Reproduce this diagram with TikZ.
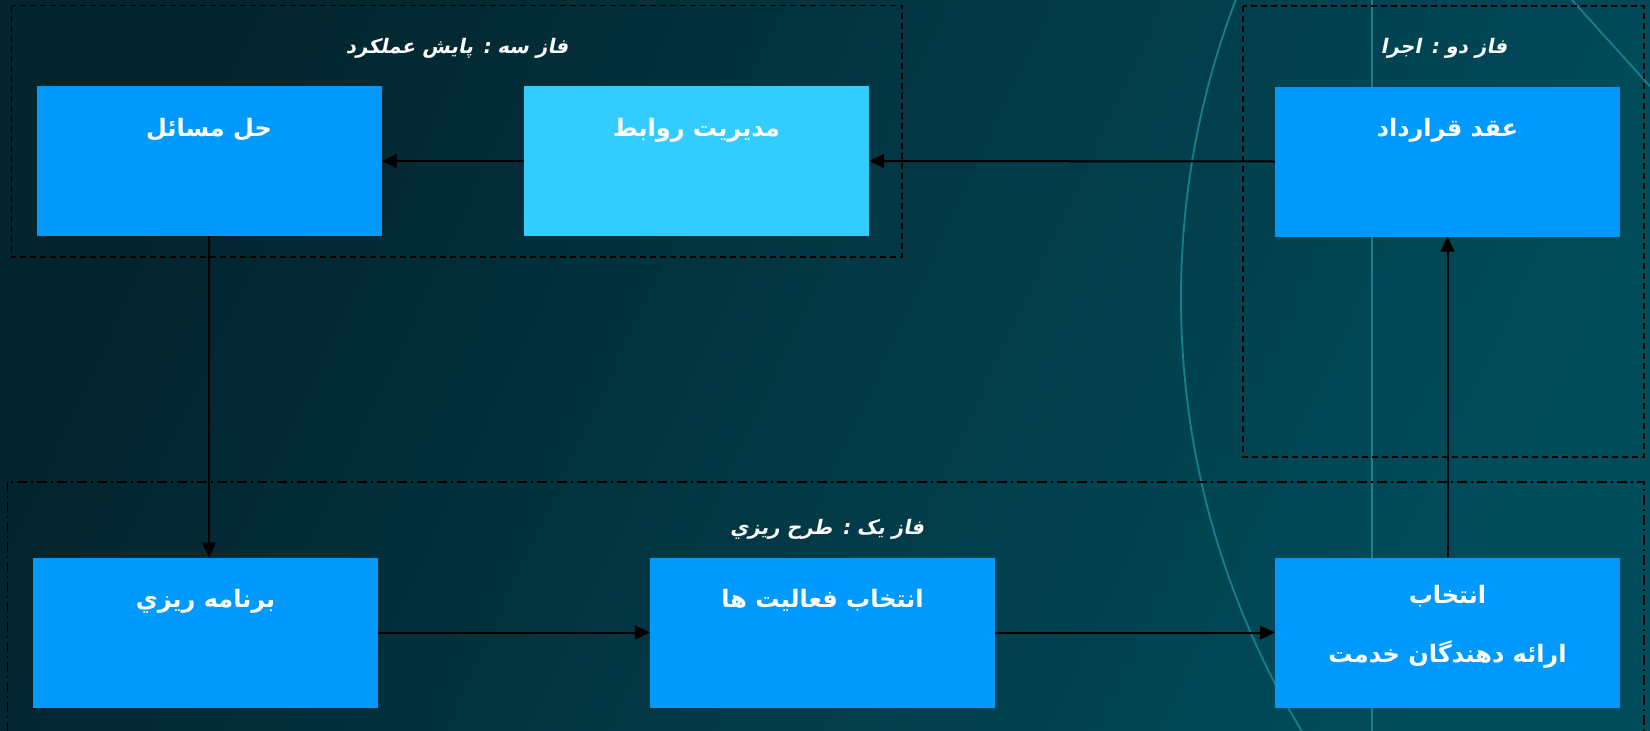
\documentclass[tikz,border=0pt]{standalone}
\usepackage{fontspec}
\usetikzlibrary{arrows.meta,calc}
\TeXXeTstate=1
\newfontfamily\arabicfont[Script=Arabic]{DejaVu Sans}
\newfontfamily\arabictitle[Script=Arabic,FakeSlant=0.2]{DejaVu Sans}
\definecolor{bgdark}{HTML}{03242D}
\definecolor{bglight}{HTML}{014C5B}
\definecolor{boxblue}{HTML}{0099FF}
\definecolor{boxlight}{HTML}{33CCFF}
\definecolor{deco}{HTML}{17808F}
\begin{document}
\begin{tikzpicture}[x=1pt,y=-1pt,
  box/.style={minimum width=345pt,minimum height=150pt,inner sep=0pt,fill=boxblue},
  boxtext/.style={anchor=base,text=white,inner sep=0pt,font=\arabicfont\bfseries\fontsize{24}{28}\selectfont},
  phasetitle/.style={anchor=base,text=white,inner sep=0pt,font=\arabictitle\bfseries\fontsize{20}{24}\selectfont},
  phasebox/.style={draw=black,line width=1.8pt,dash pattern=on 6pt off 4pt},
  phaseboxdd/.style={draw=black,line width=1.8pt,dash pattern=on 10pt off 4pt on 2pt off 4pt},
  decoline/.style={draw=deco,line width=1.8pt},
  arr/.style={draw=black,line width=2pt,-{Triangle[length=15pt,width=14pt]}}]
\useasboundingbox (0,0) rectangle (1650,731);
\clip (0,0) rectangle (1650,731);
\shade[top color=bgdark,bottom color=bglight,shading angle=65] (0,0) rectangle (1650,731);
% decorative lines
\draw[decoline] (2017,298) circle[radius=836pt];
\draw[decoline] (1372,-5) -- (1372,740);
\draw[decoline] (1565,-7.7) -- (1660,97.4);
% phase frames
\draw[phasebox] (11.5,5.5) rectangle (902,257);
\draw[phasebox] (1243,6) rectangle (1644,457);
\draw[phaseboxdd] (7.5,482) rectangle (1644,745);
\node[phasetitle] (p3) at (457,53) {\beginR فاز سه : پايش عملکرد\endR};
\node[phasetitle] (p2) at (1444,53) {\beginR فاز دو : اجرا\endR};
\node[phasetitle] (p1) at (827,534) {\beginR فاز يک : طرح ريزي\endR};
% boxes
\node[box] (b1) at (209,161) {};
\node[box,fill=boxlight] (b2) at (696.5,161) {};
\node[box] (b3) at (1447.5,161.5) {};
\node[box] (b4) at (205.5,632.5) {};
\node[box] (b5) at (822.5,632.5) {};
\node[box] (b6) at (1447.5,632.5) {};
\node[boxtext] (t1) at ($(b1.north)+(0,51)$) {\beginR حل مسائل\endR};
\node[boxtext] (t2) at ($(b2.north)+(0,51)$) {\beginR مديريت روابط\endR};
\node[boxtext] (t3) at ($(b3.north)+(0,50)$) {\beginR عقد قرارداد\endR};
\node[boxtext] (t4) at ($(b4.north)+(0,50)$) {\beginR برنامه ريزي\endR};
\node[boxtext] (t5) at ($(b5.north)+(0,50)$) {\beginR انتخاب فعاليت ها\endR};
\node[boxtext] (t6a) at ($(b6.north)+(0,46)$) {\beginR انتخاب\endR};
\node[boxtext] (t6b) at ($(b6.north)+(0,105)$) {\beginR ارائه دهندگان خدمت\endR};
% connectors
\draw[arr] (b3.west) -- (b2.east);
\draw[arr] (b2.west) -- (b1.east);
\draw[arr] (b1.south) -- (b1.south |- b4.north);
\draw[arr] (b4.east) -- (b5.west);
\draw[arr] (b5.east) -- (b6.west);
\draw[arr] (b6.north) -- (b3.south);
\end{tikzpicture}
\end{document}
